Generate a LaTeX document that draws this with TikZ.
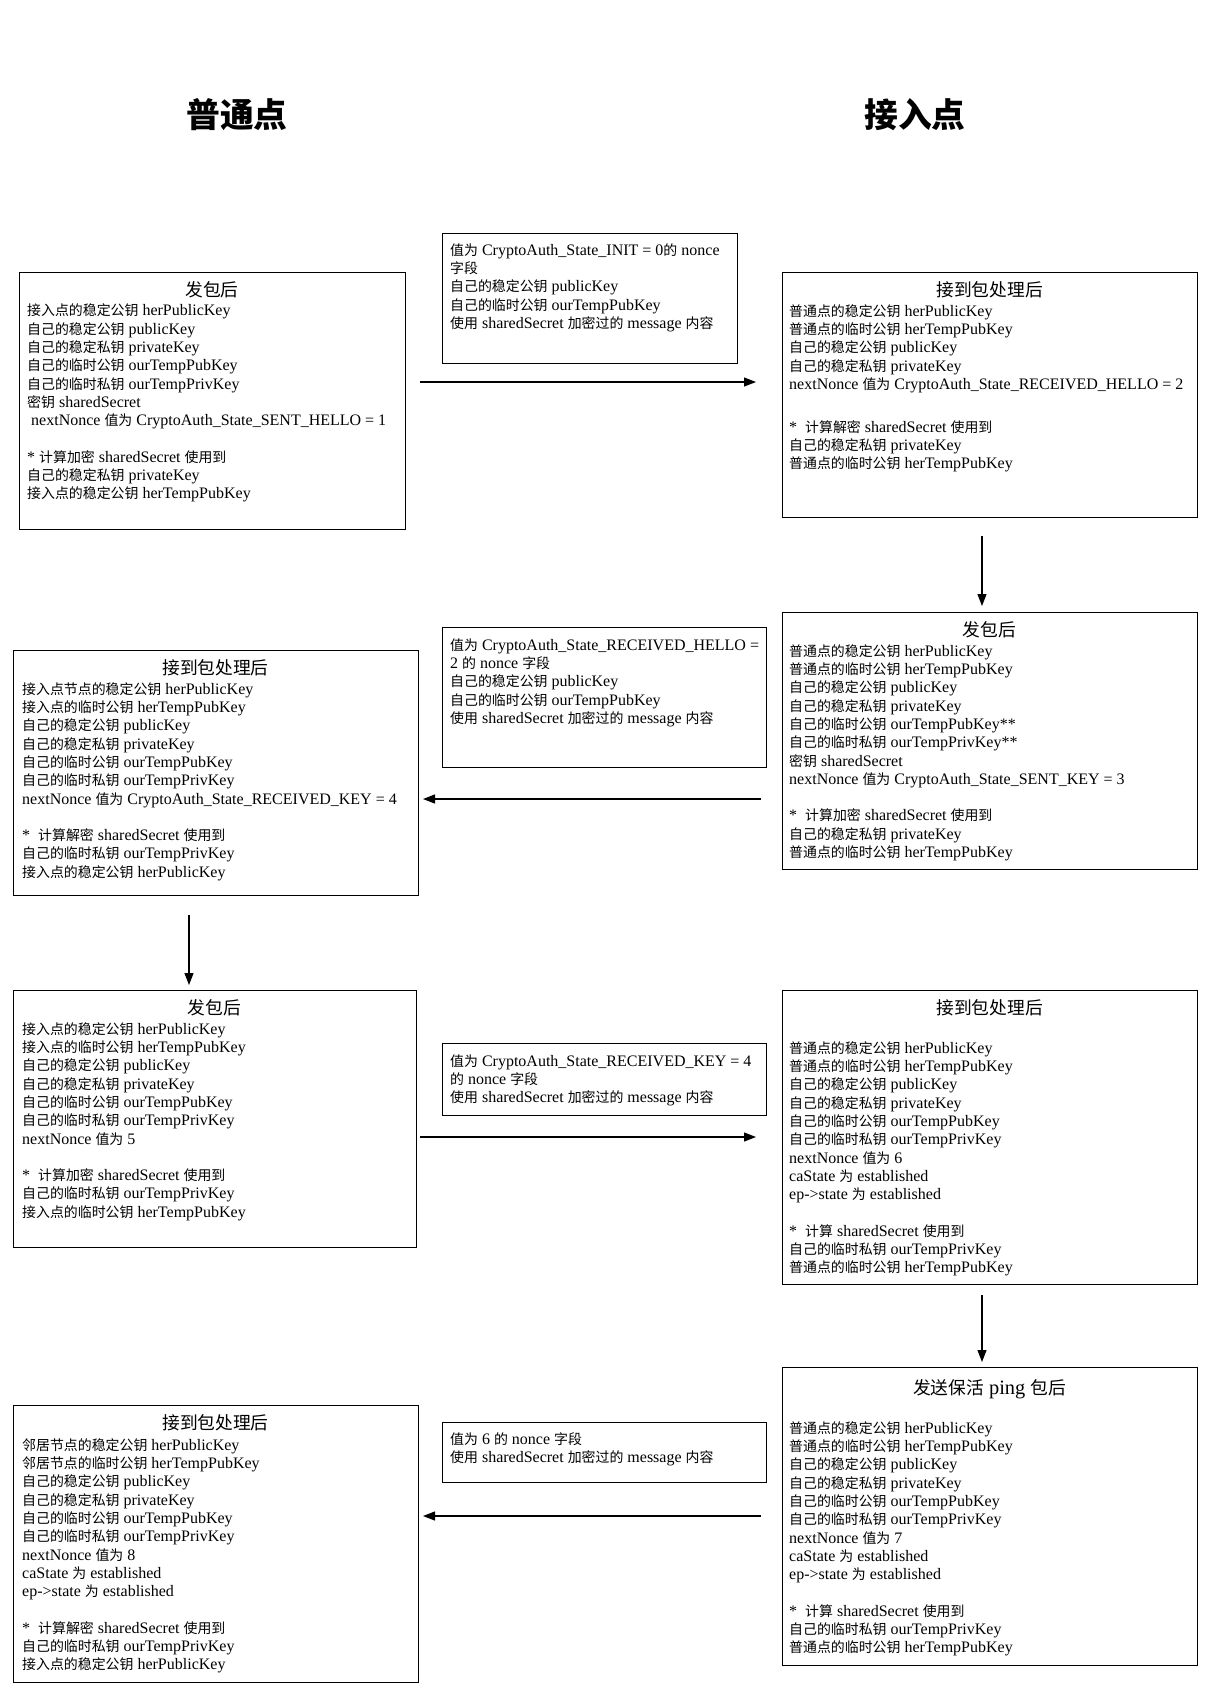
\documentclass[tikz,border=0pt]{standalone}
\usepackage{fontspec}
\setmainfont{Liberation Serif}
\newfontfamily\cjk[Scale=0.87]{Noto Sans CJK SC}
\usetikzlibrary{arrows.meta}
\newcommand\zh[1]{{\cjk #1}}
\newcommand\firstline{\rule{0pt}{13pt}}

\tikzset{
  stbox/.style={draw, line width=1.1pt, anchor=north west, inner sep=0pt},
  body/.style={anchor=north west, inner sep=0pt, align=left,
    font=\fontsize{16}{18.3}\selectfont},
  boxtitle/.style={anchor=base, inner sep=0pt, font=\fontsize{20.4}{24}\selectfont},
  maintitle/.style={anchor=base, inner sep=0pt,
    font=\fontsize{38.8}{44}\selectfont\cjk\bfseries},
  flow/.style={line width=1.2pt, -{Triangle[length=12pt,width=9pt]}}
}

\begin{document}
\begin{tikzpicture}[x=1pt, y=-1pt]
\useasboundingbox (0,0) rectangle (1209,1701);

% column headings
\node[maintitle] (hl) at (237,127) {普通点};
\node[maintitle] (hr) at (915,127) {接入点};

% ---------- step 1: ordinary node sends hello ----------
\node[stbox, minimum width=386pt, minimum height=257pt] (L1) at (19,272) {};
\node[boxtitle] (L1h) at (212,296) {\zh{发包后}};
\node[body] (L1t) at (27,302.7) {\firstline\zh{接入点的稳定公钥} herPublicKey\\
\zh{自己的稳定公钥} publicKey\\
\zh{自己的稳定私钥} privateKey\\
\zh{自己的临时公钥} ourTempPubKey\\
\zh{自己的临时私钥} ourTempPrivKey\\
\zh{密钥} sharedSecret\\
\hspace{4pt}nextNonce \zh{值为} CryptoAuth\_State\_SENT\_HELLO = 1\\[18.3pt]
* \zh{计算加密} sharedSecret \zh{使用到}\\
\zh{自己的稳定私钥} privateKey\\
\zh{接入点的稳定公钥} herTempPubKey};

\node[stbox, minimum width=295pt, minimum height=130pt] (M1) at (442,233) {};
\node[body] (M1t) at (450,242) {\firstline\zh{值为} CryptoAuth\_State\_INIT = 0\zh{的} nonce\\
\zh{字段}\\
\zh{自己的稳定公钥} publicKey\\
\zh{自己的临时公钥} ourTempPubKey\\
\zh{使用} sharedSecret \zh{加密过的} message \zh{内容}};

\node[stbox, minimum width=415pt, minimum height=245pt] (R1) at (782,272) {};
\node[boxtitle] (R1h) at (989.5,296) {\zh{接到包处理后}};
\node[body] (R1t) at (789,303) {\firstline\zh{普通点的稳定公钥} herPublicKey\\
\zh{普通点的临时公钥} herTempPubKey\\
\zh{自己的稳定公钥} publicKey\\
\zh{自己的稳定私钥} privateKey\\
nextNonce \zh{值为} CryptoAuth\_State\_RECEIVED\_HELLO = 2\\[24.5pt]
*\ \ \zh{计算解密} sharedSecret \zh{使用到}\\
\zh{自己的稳定私钥} privateKey\\
\zh{普通点的临时公钥} herTempPubKey};

% ---------- step 2: access point answers with its key ----------
\node[stbox, minimum width=415pt, minimum height=257pt] (R2) at (782,612) {};
\node[boxtitle] (R2h) at (989.5,636) {\zh{发包后}};
\node[body] (R2t) at (789,643) {\firstline\zh{普通点的稳定公钥} herPublicKey\\
\zh{普通点的临时公钥} herTempPubKey\\
\zh{自己的稳定公钥} publicKey\\
\zh{自己的稳定私钥} privateKey\\
\zh{自己的临时公钥} ourTempPubKey**\\
\zh{自己的临时私钥} ourTempPrivKey**\\
\zh{密钥} sharedSecret\\
nextNonce \zh{值为} CryptoAuth\_State\_SENT\_KEY = 3\\[18.3pt]
*\ \ \zh{计算加密} sharedSecret \zh{使用到}\\
\zh{自己的稳定私钥} privateKey\\
\zh{普通点的临时公钥} herTempPubKey};

\node[stbox, minimum width=324pt, minimum height=140pt] (M2) at (442,627) {};
\node[body] (M2t) at (450,637) {\firstline\zh{值为} CryptoAuth\_State\_RECEIVED\_HELLO =\\
2 \zh{的} nonce \zh{字段}\\
\zh{自己的稳定公钥} publicKey\\
\zh{自己的临时公钥} ourTempPubKey\\
\zh{使用} sharedSecret \zh{加密过的} message \zh{内容}};

\node[stbox, minimum width=405pt, minimum height=245pt] (L2) at (13,650) {};
\node[boxtitle] (L2h) at (215.5,674) {\zh{接到包处理后}};
\node[body] (L2t) at (22,681) {\firstline\zh{接入点节点的稳定公钥} herPublicKey\\
\zh{接入点的临时公钥} herTempPubKey\\
\zh{自己的稳定公钥} publicKey\\
\zh{自己的稳定私钥} privateKey\\
\zh{自己的临时公钥} ourTempPubKey\\
\zh{自己的临时私钥} ourTempPrivKey\\
nextNonce \zh{值为} CryptoAuth\_State\_RECEIVED\_KEY = 4\\[18.3pt]
*\ \ \zh{计算解密} sharedSecret \zh{使用到}\\
\zh{自己的临时私钥} ourTempPrivKey\\
\zh{接入点的稳定公钥} herPublicKey};

% ---------- step 3: ordinary node sends data ----------
\node[stbox, minimum width=403pt, minimum height=257pt] (L3) at (13,990) {};
\node[boxtitle] (L3h) at (214.5,1014) {\zh{发包后}};
\node[body] (L3t) at (22,1021) {\firstline\zh{接入点的稳定公钥} herPublicKey\\
\zh{接入点的临时公钥} herTempPubKey\\
\zh{自己的稳定公钥} publicKey\\
\zh{自己的稳定私钥} privateKey\\
\zh{自己的临时公钥} ourTempPubKey\\
\zh{自己的临时私钥} ourTempPrivKey\\
nextNonce \zh{值为} 5\\[18.3pt]
*\ \ \zh{计算加密} sharedSecret \zh{使用到}\\
\zh{自己的临时私钥} ourTempPrivKey\\
\zh{接入点的临时公钥} herTempPubKey};

\node[stbox, minimum width=324pt, minimum height=72pt] (M3) at (442,1043) {};
\node[body] (M3t) at (450,1053) {\firstline\zh{值为} CryptoAuth\_State\_RECEIVED\_KEY = 4\\
\zh{的} nonce \zh{字段}\\
\zh{使用} sharedSecret \zh{加密过的} message \zh{内容}};

\node[stbox, minimum width=415pt, minimum height=294pt] (R3) at (782,990) {};
\node[boxtitle] (R3h) at (989.5,1014) {\zh{接到包处理后}};
\node[body] (R3t) at (789,1040) {\firstline\zh{普通点的稳定公钥} herPublicKey\\
\zh{普通点的临时公钥} herTempPubKey\\
\zh{自己的稳定公钥} publicKey\\
\zh{自己的稳定私钥} privateKey\\
\zh{自己的临时公钥} ourTempPubKey\\
\zh{自己的临时私钥} ourTempPrivKey\\
nextNonce \zh{值为} 6\\
caState \zh{为} established\\
ep->state \zh{为} established\\[18.3pt]
*\ \ \zh{计算} sharedSecret \zh{使用到}\\
\zh{自己的临时私钥} ourTempPrivKey\\
\zh{普通点的临时公钥} herTempPubKey};

% ---------- step 4: keep-alive ping ----------
\node[stbox, minimum width=415pt, minimum height=298pt] (R4) at (782,1367) {};
\node[boxtitle] (R4h) at (989.5,1394) {\zh{发送保活} ping \zh{包后}};
\node[body] (R4t) at (789,1420) {\firstline\zh{普通点的稳定公钥} herPublicKey\\
\zh{普通点的临时公钥} herTempPubKey\\
\zh{自己的稳定公钥} publicKey\\
\zh{自己的稳定私钥} privateKey\\
\zh{自己的临时公钥} ourTempPubKey\\
\zh{自己的临时私钥} ourTempPrivKey\\
nextNonce \zh{值为} 7\\
caState \zh{为} established\\
ep->state \zh{为} established\\[18.3pt]
*\ \ \zh{计算} sharedSecret \zh{使用到}\\
\zh{自己的临时私钥} ourTempPrivKey\\
\zh{普通点的临时公钥} herTempPubKey};

\node[stbox, minimum width=324pt, minimum height=60pt] (M4) at (442,1422) {};
\node[body] (M4t) at (450,1431) {\firstline\zh{值为} 6 \zh{的} nonce \zh{字段}\\
\zh{使用} sharedSecret \zh{加密过的} message \zh{内容}};

\node[stbox, minimum width=405pt, minimum height=277pt] (L4) at (13,1405) {};
\node[boxtitle] (L4h) at (215.5,1429) {\zh{接到包处理后}};
\node[body] (L4t) at (22,1437) {\firstline\zh{邻居节点的稳定公钥} herPublicKey\\
\zh{邻居节点的临时公钥} herTempPubKey\\
\zh{自己的稳定公钥} publicKey\\
\zh{自己的稳定私钥} privateKey\\
\zh{自己的临时公钥} ourTempPubKey\\
\zh{自己的临时私钥} ourTempPrivKey\\
nextNonce \zh{值为} 8\\
caState \zh{为} established\\
ep->state \zh{为} established\\[18.3pt]
*\ \ \zh{计算解密} sharedSecret \zh{使用到}\\
\zh{自己的临时私钥} ourTempPrivKey\\
\zh{接入点的稳定公钥} herPublicKey};

% ---------- message flow ----------
\coordinate (a1s) at (420,382);  \coordinate (a1e) at (756,382);
\coordinate (a2s) at (761,799);  \coordinate (a2e) at (423,799);
\coordinate (a3s) at (420,1137); \coordinate (a3e) at (756,1137);
\coordinate (a4s) at (761,1516); \coordinate (a4e) at (423,1516);
\coordinate (d1s) at (982,536);  \coordinate (d1e) at (982,606);
\coordinate (d2s) at (189,915);  \coordinate (d2e) at (189,985);
\coordinate (d3s) at (982,1295); \coordinate (d3e) at (982,1362);

\draw[flow] (a1s) -- (a1e);
\draw[flow] (a2s) -- (a2e);
\draw[flow] (a3s) -- (a3e);
\draw[flow] (a4s) -- (a4e);
\draw[flow] (d1s) -- (d1e);
\draw[flow] (d2s) -- (d2e);
\draw[flow] (d3s) -- (d3e);
\end{tikzpicture}
\end{document}
